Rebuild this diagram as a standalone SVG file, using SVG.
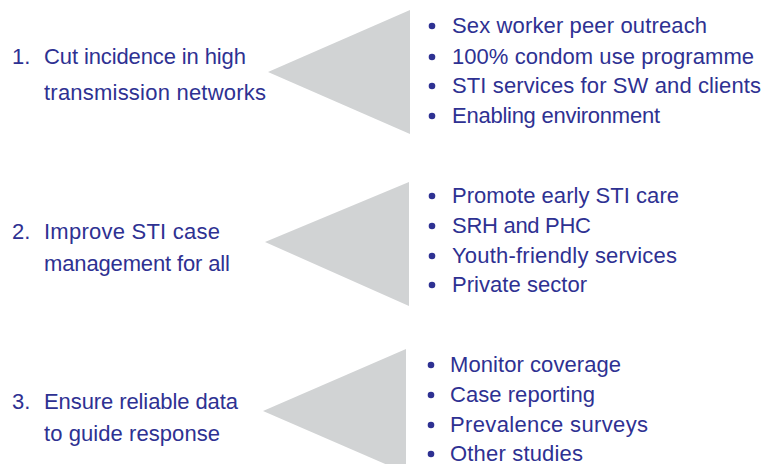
<svg xmlns="http://www.w3.org/2000/svg" width="765" height="464" viewBox="0 0 765 464">
<style>
text { font-family: "Liberation Sans", Arial, sans-serif; font-size: 22px; fill: #2e3192; }
.tri { fill: #d1d3d4; }
.dot { fill: #2e3192; }
</style>
<rect width="765" height="464" fill="#ffffff"/>
<g id="row1">
  <polygon class="tri" points="268,72 410,10 410,134"/>
  <text x="12" y="64">1.</text>
  <text x="44" y="64" textLength="202" lengthAdjust="spacing">Cut incidence in high</text>
  <text x="44" y="100" textLength="222" lengthAdjust="spacing">transmission networks</text>
  <circle class="dot" cx="432" cy="26" r="3.3"/>
  <text x="452" y="33" textLength="255" lengthAdjust="spacing">Sex worker peer outreach</text>
  <circle class="dot" cx="432" cy="57" r="3.3"/>
  <text x="452" y="64" textLength="302" lengthAdjust="spacing">100% condom use programme</text>
  <circle class="dot" cx="432" cy="86" r="3.3"/>
  <text x="452" y="93" textLength="309" lengthAdjust="spacing">STI services for SW and clients</text>
  <circle class="dot" cx="432" cy="116" r="3.3"/>
  <text x="452" y="123" textLength="208" lengthAdjust="spacing">Enabling environment</text>
</g>
<g id="row2">
  <polygon class="tri" points="265,242 409,182 409,306"/>
  <text x="12" y="239">2.</text>
  <text x="44" y="239" textLength="176" lengthAdjust="spacing">Improve STI case</text>
  <text x="44" y="271" textLength="186" lengthAdjust="spacing">management for all</text>
  <circle class="dot" cx="432" cy="196" r="3.3"/>
  <text x="452" y="203" textLength="227" lengthAdjust="spacing">Promote early STI care</text>
  <circle class="dot" cx="432" cy="226" r="3.3"/>
  <text x="452" y="233" textLength="139" lengthAdjust="spacing">SRH and PHC</text>
  <circle class="dot" cx="432" cy="256" r="3.3"/>
  <text x="452" y="263" textLength="225" lengthAdjust="spacing">Youth-friendly services</text>
  <circle class="dot" cx="432" cy="285" r="3.3"/>
  <text x="452" y="292" textLength="135" lengthAdjust="spacing">Private sector</text>
</g>
<g id="row3">
  <polygon class="tri" points="263,411 406,349 406,473"/>
  <text x="12" y="409">3.</text>
  <text x="44" y="409" textLength="194" lengthAdjust="spacing">Ensure reliable data</text>
  <text x="44" y="441" textLength="176" lengthAdjust="spacing">to guide response</text>
  <circle class="dot" cx="431" cy="365" r="3.3"/>
  <text x="450" y="372" textLength="171" lengthAdjust="spacing">Monitor coverage</text>
  <circle class="dot" cx="431" cy="395" r="3.3"/>
  <text x="450" y="402" textLength="145" lengthAdjust="spacing">Case reporting</text>
  <circle class="dot" cx="431" cy="425" r="3.3"/>
  <text x="450" y="432" textLength="198" lengthAdjust="spacing">Prevalence surveys</text>
  <circle class="dot" cx="431" cy="454" r="3.3"/>
  <text x="450" y="461" textLength="133" lengthAdjust="spacing">Other studies</text>
</g>
<g id="connectors"></g>
</svg>
